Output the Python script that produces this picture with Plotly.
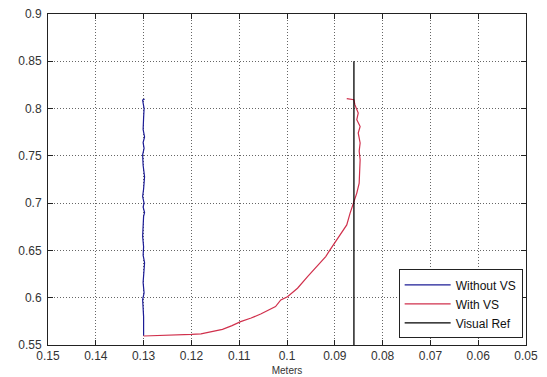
import plotly.graph_objects as go

# Data
blue_x = [0.1300, 0.1300, 0.1302, 0.1299, 0.1301, 0.1300, 0.1298, 0.1301, 0.1300, 0.1302,
          0.1300, 0.1298, 0.1301, 0.1299, 0.1302, 0.1300, 0.1298, 0.1301, 0.1302, 0.1299,
          0.1301, 0.1298, 0.1301, 0.1300, 0.1299, 0.1302, 0.1298]
blue_y = [0.560, 0.580, 0.598, 0.605, 0.616, 0.625, 0.637, 0.645, 0.654, 0.665,
          0.686, 0.690, 0.696, 0.700, 0.707, 0.715, 0.728, 0.740, 0.751, 0.758,
          0.764, 0.770, 0.778, 0.790, 0.800, 0.809, 0.810]

red_x = [0.1300, 0.1250, 0.1200, 0.1180, 0.1160, 0.1135, 0.1115, 0.1097, 0.1075, 0.1055,
         0.1024, 0.1013, 0.0999, 0.0978, 0.0957, 0.0940, 0.0930, 0.0919, 0.0910, 0.0898,
         0.0886, 0.0875, 0.0868, 0.0861, 0.0854, 0.0849, 0.0847, 0.0847, 0.0849, 0.0847,
         0.0851, 0.0847, 0.0854, 0.0851, 0.0858, 0.0860, 0.0875]
red_y = [0.5595, 0.5600, 0.5612, 0.5618, 0.5640, 0.5666, 0.5705, 0.5747, 0.5785, 0.5828,
         0.5906, 0.5976, 0.6010, 0.6100, 0.6223, 0.6320, 0.6382, 0.6435, 0.6506, 0.6594,
         0.6682, 0.6770, 0.6894, 0.7000, 0.7106, 0.7212, 0.7350, 0.7459, 0.7550, 0.7636,
         0.7742, 0.7811, 0.7882, 0.7953, 0.8041, 0.8094, 0.8105]

ref_x = [0.086, 0.086]
ref_y = [0.55, 0.85]

x_ticks = [0.15, 0.14, 0.13, 0.12, 0.11, 0.10, 0.09, 0.08, 0.07, 0.06, 0.05]
x_ticktext = ["0.15", "0.14", "0.13", "0.12", "0.11", "0.1", "0.09", "0.08", "0.07", "0.06", "0.05"]
y_ticks = [0.55, 0.60, 0.65, 0.70, 0.75, 0.80, 0.85, 0.90]
y_ticktext = ["0.55", "0.6", "0.65", "0.7", "0.75", "0.8", "0.85", "0.9"]

FONT = "Liberation Sans, Arial, sans-serif"

fig = go.Figure()
fig.add_trace(go.Scatter(x=blue_x, y=blue_y, mode="lines", name="Without VS",
                         line=dict(color="#1c1c96", width=1.2)))
fig.add_trace(go.Scatter(x=red_x, y=red_y, mode="lines", name="With VS",
                         line=dict(color="#d0304c", width=1.2)))
fig.add_trace(go.Scatter(x=ref_x, y=ref_y, mode="lines", name="Visual Ref",
                         line=dict(color="#000000", width=1.3)))

axis_common = dict(
    showline=True, linecolor="#222222", linewidth=1, mirror="allticks",
    ticks="inside", ticklen=5, tickcolor="#222222",
    showgrid=True, gridcolor="#666666", griddash="1px,2px", gridwidth=1,
    zeroline=False, automargin=False,
    tickfont=dict(family=FONT, size=12, color="#333333"),
)

fig.update_xaxes(range=[0.15, 0.05], tickvals=x_ticks, ticktext=x_ticktext,
                 title=dict(text="Meters", font=dict(family=FONT, size=10, color="#333333"),
                            standoff=4),
                 **axis_common)
fig.update_yaxes(range=[0.55, 0.90], tickvals=y_ticks, ticktext=y_ticktext,
                 ticklabelstandoff=3, **axis_common)

fig.update_layout(
    width=547, height=377,
    margin=dict(l=48, r=21, t=14, b=32),
    paper_bgcolor="white", plot_bgcolor="white",
    showlegend=True,
    legend=dict(x=0.993, y=0.02, xanchor="right", yanchor="bottom",
                bgcolor="white", bordercolor="#222222", borderwidth=1,
                font=dict(family=FONT, size=12, color="#111111"),
                tracegroupgap=0, itemwidth=46),
)

fig.write_html("out.html")
